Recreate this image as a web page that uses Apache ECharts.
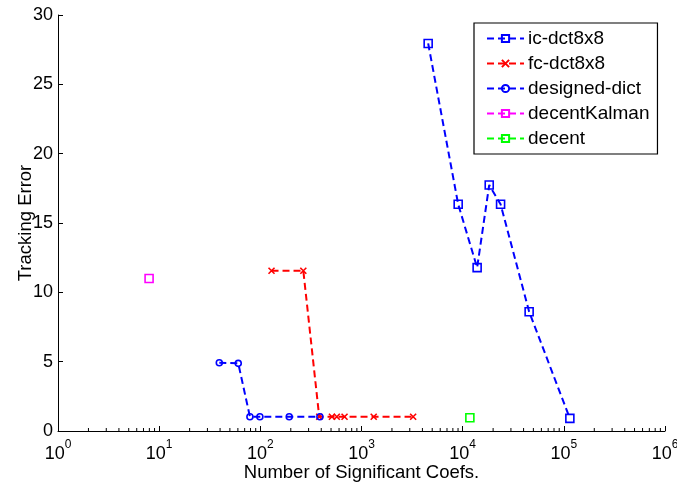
<!DOCTYPE html>
<html><head><meta charset="utf-8">
<script src="https://cdn.jsdelivr.net/npm/echarts@6/dist/echarts.min.js"></script>
<style>html,body{margin:0;padding:0;background:#fff}#c{width:677px;height:486px}</style>
</head><body><div id="c"></div>
<script>
// ---- data ----
const icX = [4560, 9030, 13900, 18300, 23700, 45400, 114700];
const icY = [27.95, 16.35, 11.78, 17.74, 16.35, 8.6, 0.91];
const fcX = [129, 266, 382, 510, 570, 680, 1320, 3240];
const fcY = [11.56, 11.56, 1.03, 1.03, 1.03, 1.03, 1.03, 1.03];
const ddX = [39.3, 60.5, 78.9, 99, 193, 388];
const ddY = [4.92, 4.88, 1.03, 1.03, 1.03, 1.03];
const dkX = [7.95];
const dkY = [11.0];
const dcX = [11780];
const dcY = [0.96];
const seriesNames = ['ic-dct8x8', 'fc-dct8x8', 'designed-dict', 'decentKalman', 'decent'];
const yTicks = [0, 5, 10, 15, 20, 25, 30];
const xDecades = [1, 10, 100, 1000, 10000, 100000, 1000000];
const minorMult = [2, 3, 4, 5, 6, 7, 8, 9];

const zip = (xs, ys) => xs.map((x, i) => [x, ys[i]]);
const xMinor = [];
xDecades.slice(0, -1).forEach(d => minorMult.forEach(m => xMinor.push([d * m, 0])));

const FONT = 'Liberation Sans, Arial, sans-serif';
const dash = [7, 4];
const crossPath = 'path://M0,0L10,10M10,0L0,10';

function lineSeries(name, data, color, symbol, size) {
  return {
    name, type: 'line', data, symbol, symbolSize: size, showAllSymbol: true,
    lineStyle: { color, width: 2, type: dash },
    itemStyle: { color: 'rgba(255,255,255,0)', borderColor: color, borderWidth: 1.6 },
    emphasis: { disabled: true }, animation: false, z: 3
  };
}

const chart = echarts.init(document.getElementById('c'), null, { renderer: 'canvas' });
chart.setOption({
  backgroundColor: '#fff',
  animation: false,
  textStyle: { fontFamily: FONT },
  grid: { left: 58, right: 12, top: 15, bottom: 55, containLabel: false, outerBoundsMode: 'none' },
  xAxis: {
    type: 'log', logBase: 10, min: 1, max: 1000000,
    name: 'Number of Significant Coefs.', nameLocation: 'middle', nameGap: 32, nameMoveOverlap: false,
    nameTextStyle: { fontSize: 18.5, color: '#000', fontFamily: FONT },
    axisLine: { lineStyle: { color: '#000', width: 1 } },
    axisTick: { inside: true, length: 5, lineStyle: { color: '#000' } },
    splitLine: { show: false },
    axisLabel: {
      margin: 8, color: '#000', fontFamily: FONT, hideOverlap: false,
      formatter: v => '{b|10}{s|' + Math.round(Math.log10(v)) + '}',
      rich: {
        b: { fontSize: 18, fontFamily: FONT, color: '#000', padding: [6, 0, 0, 0], verticalAlign: 'bottom' },
        s: { fontSize: 12, fontFamily: FONT, color: '#000', verticalAlign: 'top' }
      }
    }
  },
  yAxis: {
    type: 'value', min: 0, max: 30, interval: 5,
    name: 'Tracking Error', nameLocation: 'middle', nameGap: 23, nameRotate: 90, nameMoveOverlap: false,
    nameTextStyle: { fontSize: 18.5, color: '#000', fontFamily: FONT },
    axisLine: { show: true, lineStyle: { color: '#000', width: 1 } },
    axisTick: { show: true, inside: true, length: 5, lineStyle: { color: '#000' } },
    splitLine: { show: false },
    axisLabel: { margin: 5, fontSize: 18, color: '#000', fontFamily: FONT,
      formatter: v => yTicks.includes(v) ? String(v) : '' }
  },
  legend: {
    orient: 'vertical', left: 474, top: 23,
    data: seriesNames,
    backgroundColor: '#fff', borderColor: '#000', borderWidth: 1.2,
    padding: [6, 8, 6, 12],
    itemWidth: 37, itemHeight: 9, itemGap: 6,
    textStyle: { fontSize: 19, color: '#000', fontFamily: FONT, padding: [0, 0, 0, -1] },
    selectedMode: false
  },
  series: [
    lineSeries('ic-dct8x8', zip(icX, icY), '#0000ff', 'rect', 8),
    lineSeries('fc-dct8x8', zip(fcX, fcY), '#ff0000', crossPath, 6),
    lineSeries('designed-dict', zip(ddX, ddY), '#0000ff', 'circle', 6),
    lineSeries('decentKalman', zip(dkX, dkY), '#ff00ff', 'rect', 8),
    lineSeries('decent', zip(dcX, dcY), '#00ff00', 'rect', 8),
    {
      type: 'custom', name: 'minorTicks', data: xMinor, silent: true, z: 2,
      renderItem: (params, api) => {
        const p = api.coord([api.value(0), 0]);
        return { type: 'line', shape: { x1: p[0], y1: p[1], x2: p[0], y2: p[1] - 3 },
          style: { stroke: '#000', lineWidth: 1 } };
      }
    }
  ]
});
</script></body></html>
